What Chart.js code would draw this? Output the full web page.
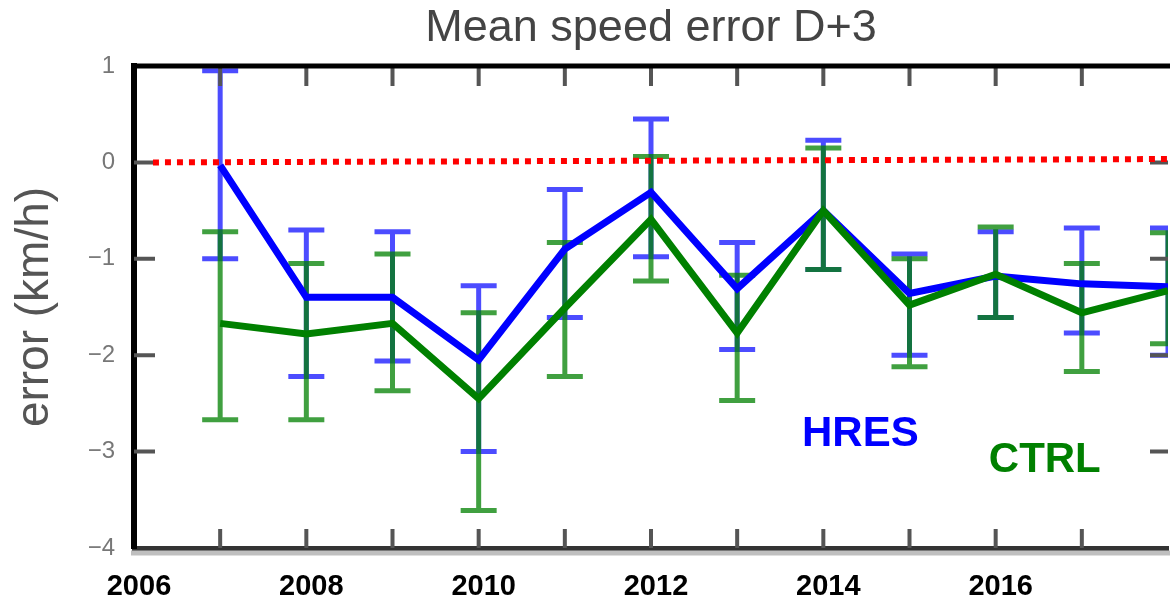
<!DOCTYPE html>
<html>
<head>
<meta charset="utf-8">
<script src="https://cdn.jsdelivr.net/npm/chart.js@4.4.1/dist/chart.umd.min.js"></script>
<style>
html, body { margin: 0; padding: 0; overflow: hidden; background: #fff; }
#wrap { width: 1190px; height: 599px; }
</style>
</head>
<body>
<div id="wrap"><canvas id="diagram" width="1190" height="599"></canvas></div>
<script>
// years of the forecast verification
const years = [2007, 2008, 2009, 2010, 2011, 2012, 2013, 2014, 2015, 2016, 2017, 2018];

// HRES mean error and its spread
const hres     = [-0.03, -1.40, -1.40, -2.05, -0.90, -0.31, -1.31, -0.50, -1.36, -1.18, -1.26, -1.29];
const hresHigh = [ 0.95, -0.70, -0.72, -1.28, -0.28,  0.45, -0.83,  0.23, -0.95, -0.72, -0.68, -0.68];
const hresLow  = [-1.00, -2.22, -2.06, -3.00, -1.61, -0.98, -1.94, -1.11, -2.00, -1.61, -1.77, -2.00];

// CTRL mean error and its spread
const ctrl     = [-1.67, -1.78, -1.67, -2.45, -1.51, -0.59, -1.77, -0.50, -1.48, -1.16, -1.56, -1.33];
const ctrlHigh = [-0.72, -1.05, -0.95, -1.56, -0.83,  0.06, -1.17,  0.15, -1.00, -0.67, -1.05, -0.73];
const ctrlLow  = [-2.67, -2.67, -2.37, -3.61, -2.22, -1.23, -2.47, -1.11, -2.12, -1.61, -2.17, -1.88];

// zero reference line
const zeroX = [2006.22, 2018];
const zeroY = [0, 0.035];

// series names written inside the plot
const seriesNames = ["HRES", "CTRL"];
const seriesColors = ["#0000ff", "#008000"];
const nameX = [2014.43, 2016.57];
const nameY = [-2.82, -3.09];

Chart.defaults.font.family = "'Liberation Sans', Arial, sans-serif";

const pts = (xs, ys) => ys.map((v, i) => ({ x: xs[i], y: v }));

const errorBars = {
  id: "errorBars",
  beforeDatasetsDraw(chart) {
    const { ctx, chartArea, scales: { x, y } } = chart;
    const sets = [
      { hi: hresHigh, lo: hresLow, color: "rgba(0,0,255,0.7)" },
      { hi: ctrlHigh, lo: ctrlLow, color: "rgba(0,128,0,0.75)" }
    ];
    ctx.save();
    ctx.beginPath();
    ctx.rect(chartArea.left, chartArea.top, chartArea.right - chartArea.left, chartArea.bottom - chartArea.top);
    ctx.clip();
    ctx.lineWidth = 5;
    ctx.lineCap = "butt";
    sets.forEach(s => {
      ctx.strokeStyle = s.color;
      years.forEach((yr, i) => {
        const px = x.getPixelForValue(yr);
        const top = y.getPixelForValue(s.hi[i]);
        const bot = y.getPixelForValue(s.lo[i]);
        ctx.beginPath();
        ctx.moveTo(px, top + 2.5);
        ctx.lineTo(px, bot - 2.5);
        ctx.moveTo(px - 18, top);
        ctx.lineTo(px + 18, top);
        ctx.moveTo(px - 18, bot);
        ctx.lineTo(px + 18, bot);
        ctx.stroke();
      });
    });
    ctx.restore();
  }
};

const frame = {
  id: "frame",
  beforeDatasetsDraw(chart) {
    const { ctx, chartArea: a, scales: { x, y } } = chart;
    ctx.save();
    ctx.strokeStyle = "#555";
    ctx.lineWidth = 4;
    ctx.beginPath();
    for (let yr = 2007; yr <= 2017; yr++) {
      const px = x.getPixelForValue(yr);
      ctx.moveTo(px, a.bottom); ctx.lineTo(px, a.bottom - 19);
      ctx.moveTo(px, a.top); ctx.lineTo(px, a.top + 20);
    }
    for (let v = -3; v <= 0; v++) {
      const py = y.getPixelForValue(v);
      ctx.moveTo(a.left, py); ctx.lineTo(a.left + 21, py);
      ctx.moveTo(a.right, py); ctx.lineTo(a.right - 18, py);
    }
    ctx.stroke();
    ctx.restore();
  },
  afterDraw(chart) {
    const { ctx, chartArea: a } = chart;
    ctx.save();
    ctx.strokeStyle = "#000";
    ctx.lineWidth = 5;
    ctx.beginPath();
    ctx.moveTo(a.left - 3, a.top);
    ctx.lineTo(chart.width, a.top);
    ctx.stroke();
    ctx.strokeStyle = "#bfbfbf";
    ctx.beginPath();
    ctx.moveTo(a.left - 3, a.bottom + 5);
    ctx.lineTo(chart.width, a.bottom + 5);
    ctx.stroke();
    ctx.restore();
  }
};

const seriesLabels = {
  id: "seriesLabels",
  afterDatasetsDraw(chart) {
    const { ctx, scales: { x, y } } = chart;
    ctx.save();
    ctx.font = "bold 42px 'Liberation Sans', Arial, sans-serif";
    ctx.textAlign = "center";
    ctx.textBaseline = "middle";
    seriesNames.forEach((name, i) => {
      ctx.fillStyle = seriesColors[i];
      ctx.fillText(name, x.getPixelForValue(nameX[i]), y.getPixelForValue(nameY[i]));
    });
    ctx.restore();
  }
};

new Chart("diagram", {
  type: "line",
  data: {
    datasets: [
      {
        label: "zero",
        data: pts(zeroX, zeroY),
        borderColor: "#ff0000",
        borderWidth: 6,
        borderDash: [6, 6],
        pointRadius: 0,
        order: 0
      },
      {
        label: "CTRL",
        data: pts(years, ctrl),
        borderColor: "#008000",
        borderWidth: 7,
        pointRadius: 0,
        order: 1
      },
      {
        label: "HRES",
        data: pts(years, hres),
        borderColor: "#0000ff",
        borderWidth: 7,
        pointRadius: 0,
        order: 2
      }
    ]
  },
  options: {
    animation: false,
    responsive: false,
    layout: { padding: { left: 0, right: 12, top: 0, bottom: 0 } },
    plugins: {
      legend: { display: false },
      tooltip: { enabled: false },
      title: {
        display: true,
        text: "Mean speed error D+3",
        fullSize: false,
        color: "#444",
        font: { size: 45, weight: "normal" },
        padding: { top: 2, bottom: 10 }
      }
    },
    scales: {
      x: {
        type: "linear",
        min: 2006,
        max: 2018,
        afterFit: s => { s.height = 51; },
        grid: { drawOnChartArea: false, drawTicks: false },
        border: { color: "#333", width: 5 },
        ticks: {
          stepSize: 1,
          autoSkip: false,
          maxRotation: 0,
          padding: 22,
          labelOffset: 5,
          color: "#000",
          font: { size: 29, weight: "bold" },
          callback: v => (v % 2 === 0 && v < 2018) ? String(v) : ""
        }
      },
      y: {
        min: -4,
        max: 1,
        afterFit: s => { s.width = 134; },
        grid: { drawOnChartArea: false, drawTicks: false },
        border: { color: "#000", width: 6 },
        title: {
          display: true,
          text: "error (km/h)",
          color: "#555",
          font: { size: 46, weight: "normal" },
          padding: { top: 8, bottom: 0 }
        },
        ticks: {
          stepSize: 1,
          padding: 19,
          color: "#777",
          font: { size: 24 },
          callback: v => v < 0 ? "\u2212" + Math.abs(v) : String(v)
        }
      }
    }
  },
  plugins: [errorBars, frame, seriesLabels]
});
</script>
</body>
</html>
